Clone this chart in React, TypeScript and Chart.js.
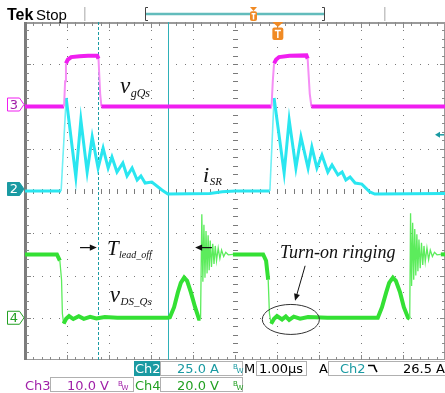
import React, { useEffect, useRef } from "react";
import { Chart, registerables } from "chart.js";

Chart.register(...registerables);

// ---------------- Scope settings ----------------
const H_DIVS = 10;
const V_DIVS = 8;
const TIME_PER_DIV = 1; // µs/div
const CH3_PER_DIV = 10; // V/div
const CH3_OFFSET_DIV = 2;
const CH2_PER_DIV = 25; // A/div
const CH2_OFFSET_DIV = 0;
const CH4_PER_DIV = 20; // V/div
const CH4_OFFSET_DIV = -3;

// ---------------- Waveform data [time µs, value] ----------------
// Ch3: gate voltage v_gQs (V)
const vgsSamples: [number, number][] = [
  [0, 0], [0.93, 0], [0.955, 6], [0.975, 10.2], [1.02, 11.1], [1.1, 11.7], [1.3, 11.9], [1.5, 12.0],
  [1.72, 12.0], [1.75, 11.3], [1.79, 3], [1.82, 0], [5.87, 0], [5.9, 6], [5.93, 10.2], [5.98, 11.1],
  [6.05, 11.7], [6.3, 12.0], [6.7, 12.1], [6.73, 11.3], [6.78, 3], [6.82, 0], [10, 0],
];

// Ch2: SR current i_SR (A)
const isrSamples: [number, number][] = [
  [0, 0], [0.86, 0], [0.98, 55], [1.21, 8.3], [1.33, 42], [1.48, 11.2], [1.6, 32], [1.74, 13.6],
  [1.86, 25.4], [1.98, 13.6], [2.07, 20.1], [2.19, 11.2], [2.33, 16.6], [2.43, 8.9], [2.55, 13.6],
  [2.67, 6.5], [2.76, 8.9], [2.86, 4.7], [3.02, 5.3], [3.26, 0.6], [3.4, -1.8], [4.4, -1.5],
  [4.7, -0.5], [5.0, 0], [5.83, 0], [5.93, 55], [6.17, 10.7], [6.29, 42], [6.45, 13.6], [6.57, 32],
  [6.74, 13.6], [6.83, 26], [6.95, 13.6], [7.07, 21.3], [7.21, 11.2], [7.31, 15.4], [7.45, 9.5],
  [7.55, 11.2], [7.64, 6.5], [7.74, 8.3], [7.86, 4.7], [8.02, 4.1], [8.21, -0.6], [8.33, -1.8], [10, -1.5],
];

// Ch4: drain-source voltage v_DS_Qs (V)
const vdsSamples: [number, number][] = [
  [0, 30], [0.76, 30], [0.83, 27], [0.87, 18], [0.89, 2], [0.92, -2.8], [0.98, -0.5], [1.05, 0.8],
  [1.15, -0.6], [1.28, 0.7], [1.4, -0.5], [1.55, 0.4], [1.7, -0.3], [1.9, 0.3], [2.2, 0], [3.4, 0],
  [3.45, 0.2], [3.55, 5], [3.64, 12], [3.71, 16.5], [3.79, 19], [3.86, 17.5], [3.95, 12], [4.05, 5],
  [4.14, -0.5], [4.18, -0.5], [4.21, 49], [4.235, 17], [4.26, 44], [4.285, 19], [4.31, 41], [4.335, 21],
  [4.36, 39], [4.385, 22.5], [4.41, 36.5], [4.44, 24], [4.47, 35], [4.5, 25.5], [4.53, 34], [4.56, 27],
  [4.6, 33], [4.64, 28], [4.68, 32], [4.73, 29], [4.78, 31], [4.84, 29.8], [4.95, 30], [5.67, 30],
  [5.74, 27], [5.79, 18], [5.82, 2], [5.86, -2.8], [5.93, -0.5], [6.0, 0.8], [6.12, -0.8], [6.21, 0.6],
  [6.29, -1.0], [6.4, 0.5], [6.55, -0.4], [6.74, 0.3], [7.2, 0], [8.4, 0], [8.5, 5], [8.6, 12],
  [8.67, 16.5], [8.76, 19], [8.83, 17.5], [8.93, 12], [9.02, 5], [9.12, 0], [9.16, -0.5], [9.18, 49.5],
  [9.205, 15], [9.23, 45], [9.255, 18], [9.28, 42], [9.305, 20], [9.33, 39.5], [9.355, 22], [9.38, 37],
  [9.41, 23.5], [9.44, 35.5], [9.47, 25], [9.5, 34], [9.53, 26.5], [9.57, 33], [9.61, 27.5], [9.65, 32],
  [9.7, 29], [9.75, 31], [9.81, 29.8], [9.9, 30], [10, 30],
];

// thin-trace windows (fast edges / ringing), in µs
const vdsThinWindows: [number, number][] = [[0.83, 0.92], [4.18, 4.95], [5.79, 5.86], [9.16, 9.9]];
const vgsThinWindows: [number, number][] = [[0.93, 0.975], [1.75, 1.82], [5.87, 5.93], [6.73, 6.82]];
const isrThinWindows: [number, number][] = [[0.86, 0.98], [5.83, 5.93]];

// cursors & trigger (µs)
const cursorDashedT = 1.74;
const cursorSolidT = 3.405;
const triggerT = 6.02;
const trigLevelDiv = 1.33;

// readout texts
const ch2Readout = "25.0 A";
const ch3Readout = "10.0 V";
const ch4Readout = "20.0 V";
const timebaseReadout = "1.00\u00b5s";
const trigReadout = "26.5 A";

// colours
const C_MAGENTA = "#f01ef0";
const C_CYAN = "#2ae6f0";
const C_GREEN = "#34e034";
const C_TEAL = "#1a9aa2";
const C_PURPLE = "#a020a8";
const C_DGREEN = "#22a022";
const C_ORANGE = "#f08a24";

const SERIF = '"Liberation Serif","DejaVu Serif",serif';
const SANS = '"DejaVu Sans","Liberation Sans",sans-serif';
const ARIAL = '"Liberation Sans","DejaVu Sans",sans-serif';

function toPts(s: [number, number][]) {
  return s.map(([x, y]) => ({ x, y }));
}

function inWin(w: [number, number][], t: number) {
  return w.some(([a, b]) => t >= a && t < b);
}

function arrow(ctx: CanvasRenderingContext2D, x1: number, y1: number, x2: number, y2: number, head = 7, half = 3.2) {
  const ang = Math.atan2(y2 - y1, x2 - x1);
  ctx.beginPath();
  ctx.moveTo(x1, y1);
  ctx.lineTo(x2 - Math.cos(ang) * head * 0.8, y2 - Math.sin(ang) * head * 0.8);
  ctx.stroke();
  ctx.beginPath();
  ctx.moveTo(x2, y2);
  ctx.lineTo(x2 - Math.cos(ang) * head - Math.sin(ang) * half, y2 - Math.sin(ang) * head + Math.cos(ang) * half);
  ctx.lineTo(x2 - Math.cos(ang) * head + Math.sin(ang) * half, y2 - Math.sin(ang) * head - Math.cos(ang) * half);
  ctx.closePath();
  ctx.fill();
}

function mathLabel(ctx: CanvasRenderingContext2D, x: number, y: number, main: string, sub: string, mainPx: number, subPx: number, subDy: number) {
  ctx.font = `italic ${mainPx}px ${SERIF}`;
  ctx.fillText(main, x, y);
  const w = ctx.measureText(main).width;
  ctx.font = `italic ${subPx}px ${SERIF}`;
  ctx.fillText(sub, x + w + 0.5, y + subDy);
}

function chMarker(ctx: CanvasRenderingContext2D, y: number, label: string, stroke: string, fill: string, text: string) {
  ctx.beginPath();
  ctx.moveTo(7.5, y - 6.5);
  ctx.lineTo(19.5, y - 6.5);
  ctx.lineTo(24, y);
  ctx.lineTo(19.5, y + 6.5);
  ctx.lineTo(7.5, y + 6.5);
  ctx.closePath();
  ctx.fillStyle = fill;
  ctx.fill();
  ctx.strokeStyle = stroke;
  ctx.lineWidth = 1;
  ctx.stroke();
  ctx.fillStyle = text;
  ctx.font = `13px ${SANS}`;
  ctx.textAlign = "center";
  ctx.textBaseline = "middle";
  ctx.fillText(label, 14, y + 1);
  ctx.textAlign = "left";
  ctx.textBaseline = "alphabetic";
}

function bw(ctx: CanvasRenderingContext2D, x: number, y: number, color: string) {
  ctx.fillStyle = color;
  ctx.font = `7px ${SANS}`;
  ctx.fillText("B", x, y - 4);
  ctx.fillText("W", x + 3.5, y);
}

function trigIcon(ctx: CanvasRenderingContext2D, cx: number, top: number, h: number, w: number) {
  ctx.fillStyle = C_ORANGE;
  ctx.beginPath();
  ctx.moveTo(cx - w / 2, top);
  ctx.lineTo(cx + w / 2, top);
  ctx.lineTo(cx, top + h * 0.28);
  ctx.closePath();
  ctx.fill();
  const bt = top + h * 0.3;
  const bh = h * 0.7;
  ctx.beginPath();
  (ctx as any).roundRect ? (ctx as any).roundRect(cx - w / 2, bt, w, bh, 2) : ctx.rect(cx - w / 2, bt, w, bh);
  ctx.fill();
  ctx.strokeStyle = "#fff";
  ctx.lineWidth = 1.5;
  ctx.beginPath();
  ctx.moveTo(cx - w * 0.28, bt + bh * 0.25);
  ctx.lineTo(cx + w * 0.28, bt + bh * 0.25);
  ctx.moveTo(cx, bt + bh * 0.25);
  ctx.lineTo(cx, bt + bh * 0.85);
  ctx.stroke();
}

const scopePlugin = {
  id: "scope",
  beforeDatasetsDraw(chart: any) {
    const { ctx, chartArea: a, scales } = chart;
    const xs = scales.x;
    const yd = scales.yDiv;
    ctx.save();
    // dotted graticule
    ctx.fillStyle = "#7a7a7a";
    for (let i = 1; i < H_DIVS; i++) {
      const px = Math.round(xs.getPixelForValue(i * TIME_PER_DIV));
      for (let k = 1; k < V_DIVS * 5; k++) {
        const py = Math.round(yd.getPixelForValue(-V_DIVS / 2 + k * 0.2));
        if (i === H_DIVS / 2) ctx.fillRect(px - 2, py, 5, 1);
        else ctx.fillRect(px, py, 1, 1);
      }
    }
    for (let j = 1; j < V_DIVS; j++) {
      const py = Math.round(yd.getPixelForValue(-V_DIVS / 2 + j));
      for (let k = 1; k < H_DIVS * 5; k++) {
        const px = Math.round(xs.getPixelForValue(k * 0.2 * TIME_PER_DIV));
        if (j === V_DIVS / 2) ctx.fillRect(px, py - 2, 1, 5);
        else ctx.fillRect(px, py, 1, 1);
      }
    }
    // frame
    ctx.fillStyle = "#9a9a9a";
    ctx.fillRect(a.left, a.top, a.right - a.left, 2);
    ctx.fillRect(a.left, a.bottom - 1, a.right - a.left, 1);
    ctx.fillRect(a.right - 1, a.top, 1, a.bottom - a.top);
    ctx.fillStyle = "#7c7c7c";
    ctx.fillRect(a.left - 1, a.top, 3, a.bottom - a.top);
    ctx.fillStyle = "#8a8a8a";
    for (let k = 1; k < H_DIVS * 5; k++) {
      const px = Math.round(xs.getPixelForValue(k * 0.2 * TIME_PER_DIV));
      const len = k % 5 === 0 ? 5 : 3;
      ctx.fillRect(px, a.top, 1, len + 1);
      ctx.fillRect(px, a.bottom - len, 1, len);
    }
    for (let k = 1; k < V_DIVS * 5; k++) {
      const py = Math.round(yd.getPixelForValue(-V_DIVS / 2 + k * 0.2));
      const len = k % 5 === 0 ? 5 : 3;
      ctx.fillRect(a.left + 1, py, len, 1);
      ctx.fillRect(a.right - len, py, len, 1);
    }
    // cursors
    const xd = Math.round(xs.getPixelForValue(cursorDashedT)) + 0.5;
    ctx.strokeStyle = C_TEAL;
    ctx.lineWidth = 1;
    ctx.setLineDash([3, 2]);
    ctx.beginPath();
    ctx.moveTo(xd, a.top);
    ctx.lineTo(xd, a.bottom);
    ctx.stroke();
    ctx.setLineDash([]);
    const xsol = Math.round(xs.getPixelForValue(cursorSolidT)) + 0.5;
    ctx.strokeStyle = "#2eb0b8";
    ctx.beginPath();
    ctx.moveTo(xsol, a.top);
    ctx.lineTo(xsol, a.bottom);
    ctx.stroke();
    ctx.restore();
  },
  afterDraw(chart: any) {
    const { ctx, chartArea: a, scales } = chart;
    const xs = scales.x;
    const yd = scales.yDiv;
    const X = (t: number) => xs.getPixelForValue(t);
    const Y = (d: number) => yd.getPixelForValue(d);
    ctx.save();
    ctx.textBaseline = "alphabetic";
    ctx.fillStyle = "#111";
    ctx.strokeStyle = "#111";

    // waveform labels
    mathLabel(ctx, X(2.26), Y(2.32), "v", "gQs", 23, 12, 4);
    mathLabel(ctx, X(4.24), Y(0.22), "i", "SR", 22, 11, 3);
    mathLabel(ctx, X(1.95), Y(-1.52), "T", "lead_off", 21, 10, 3);
    mathLabel(ctx, X(2.02), Y(-2.62), "v", "DS_Qs", 23, 11, 3);

    // T_lead_off arrows
    ctx.lineWidth = 1.2;
    arrow(ctx, X(1.31), Y(-1.34), X(1.71), Y(-1.34));
    arrow(ctx, X(4.45), Y(-1.34), X(4.05), Y(-1.34));

    // Turn-on ringing
    ctx.font = `italic 18px ${SERIF}`;
    ctx.fillText("Turn-on ringing", X(6.07), Y(-1.59));
    ctx.lineWidth = 1;
    arrow(ctx, X(6.67), Y(-1.77), X(6.43), Y(-2.6), 7, 3);
    ctx.strokeStyle = "#333";
    ctx.beginPath();
    ctx.ellipse(X(6.33), Y(-3.04), X(0.68) - X(0), Y(0) - Y(0.355), 0, 0, Math.PI * 2);
    ctx.stroke();

    // channel ground markers
    chMarker(ctx, scales.yCh3.getPixelForValue(0) - 2, "3", C_MAGENTA, "#fff", C_PURPLE);
    chMarker(ctx, scales.yCh2.getPixelForValue(0) - 2, "2", C_TEAL, C_TEAL, "#fff");
    chMarker(ctx, scales.yCh4.getPixelForValue(0), "4", C_DGREEN, "#fff", C_DGREEN);

    // trigger level marker (right)
    ctx.strokeStyle = C_TEAL;
    ctx.fillStyle = C_TEAL;
    ctx.lineWidth = 1.5;
    arrow(ctx, a.right - 1, Y(trigLevelDiv), a.right - 10, Y(trigLevelDiv), 5, 3);

    // trigger position marker (top of graticule)
    trigIcon(ctx, X(triggerT), a.top, 18, 11);

    // header
    ctx.fillStyle = "#000";
    ctx.font = `bold 16px ${ARIAL}`;
    ctx.fillText("Tek", 7, 20);
    ctx.font = `15px ${ARIAL}`;
    ctx.fillText("Stop", 36, 20);
    ctx.fillStyle = "#c4c4c4";
    ctx.fillRect(84, 7, 1.5, 14);
    ctx.fillRect(384, 7, 1.5, 14);
    ctx.strokeStyle = "#444";
    ctx.lineWidth = 1;
    ctx.beginPath();
    ctx.moveTo(148, 7.5); ctx.lineTo(145.5, 7.5); ctx.lineTo(145.5, 20.5); ctx.lineTo(148, 20.5);
    ctx.moveTo(322, 7.5); ctx.lineTo(324.5, 7.5); ctx.lineTo(324.5, 20.5); ctx.lineTo(322, 20.5);
    ctx.stroke();
    ctx.strokeStyle = "#62bcbc";
    ctx.lineWidth = 2.5;
    ctx.beginPath();
    ctx.moveTo(146, 14);
    ctx.lineTo(324, 14);
    ctx.stroke();
    trigIcon(ctx, 253.5, 7, 14, 7);

    // readouts row 1
    const r1t = 361, r1b = 376, r1y = 373;
    ctx.fillStyle = C_TEAL;
    ctx.fillRect(134, r1t, 26, r1b - r1t);
    ctx.font = `13px ${SANS}`;
    ctx.fillStyle = "#fff";
    ctx.fillText("Ch2", 135, r1y);
    ctx.strokeStyle = "#b0b0b0";
    ctx.lineWidth = 1;
    ctx.strokeRect(160.5, r1t + 0.5, 82, r1b - r1t - 1);
    ctx.fillStyle = C_TEAL;
    ctx.fillText(ch2Readout, 177, r1y);
    bw(ctx, 233, r1y, C_TEAL);
    ctx.fillStyle = "#000";
    ctx.font = `13px ${SANS}`;
    ctx.fillText("M", 244, r1y);
    ctx.strokeRect(256.5, r1t + 0.5, 50, r1b - r1t - 1);
    ctx.fillText(timebaseReadout, 259, r1y);
    ctx.fillText("A", 319, r1y);
    ctx.strokeRect(328.5, r1t + 0.5, 120, r1b - r1t - 1);
    ctx.fillStyle = C_TEAL;
    ctx.fillText("Ch2", 340, r1y);
    ctx.strokeStyle = "#000";
    ctx.lineWidth = 1.6;
    ctx.beginPath();
    ctx.moveTo(368, 365.5);
    ctx.lineTo(374, 365.5);
    ctx.quadraticCurveTo(375, 369, 377, 372);
    ctx.stroke();
    ctx.fillStyle = "#000";
    ctx.textAlign = "right";
    ctx.fillText(trigReadout, 445, r1y);
    ctx.textAlign = "left";

    // readouts row 2
    const r2t = 377, r2b = 392, r2y = 390;
    ctx.strokeStyle = "#b0b0b0";
    ctx.lineWidth = 1;
    ctx.fillStyle = C_PURPLE;
    ctx.fillText("Ch3", 25, r2y);
    ctx.strokeRect(50.5, r2t + 0.5, 83, r2b - r2t - 1);
    ctx.fillText(ch3Readout, 67, r2y);
    bw(ctx, 118, r2y, C_PURPLE);
    ctx.font = `13px ${SANS}`;
    ctx.fillStyle = C_DGREEN;
    ctx.fillText("Ch4", 135, r2y);
    ctx.strokeRect(160.5, r2t + 0.5, 82, r2b - r2t - 1);
    ctx.fillText(ch4Readout, 177, r2y);
    bw(ctx, 233, r2y, C_DGREEN);

    ctx.restore();
  },
};

export default function App() {
  const ref = useRef<HTMLCanvasElement>(null);
  useEffect(() => {
    const canvas = ref.current;
    if (!canvas) return;
    const chart = new Chart(canvas, {
      type: "line",
      data: {
        datasets: [
          {
            label: "v_gQs",
            data: toPts(vgsSamples),
            yAxisID: "yCh3",
            borderColor: C_MAGENTA,
            borderWidth: 4,
            pointRadius: 0,
            tension: 0,
            segment: {
              borderWidth: (c: any) => (inWin(vgsThinWindows, c.p0.parsed.x) ? 2 : undefined),
              borderColor: (c: any) => (inWin(vgsThinWindows, c.p0.parsed.x) ? "#f58ef5" : undefined),
            },
          },
          {
            label: "i_SR",
            data: toPts(isrSamples),
            yAxisID: "yCh2",
            borderColor: C_CYAN,
            borderWidth: 3,
            pointRadius: 0,
            tension: 0,
            segment: {
              borderWidth: (c: any) => (inWin(isrThinWindows, c.p0.parsed.x) ? 1.6 : undefined),
              borderColor: (c: any) => (inWin(isrThinWindows, c.p0.parsed.x) ? "#6ff0f5" : undefined),
            },
          },
          {
            label: "v_DS_Qs",
            data: toPts(vdsSamples),
            yAxisID: "yCh4",
            borderColor: C_GREEN,
            borderWidth: 4,
            pointRadius: 0,
            tension: 0,
            segment: {
              borderWidth: (c: any) => (inWin(vdsThinWindows, c.p0.parsed.x) ? 1.3 : undefined),
              borderColor: (c: any) => (inWin(vdsThinWindows, c.p0.parsed.x) ? "#5cec5c" : undefined),
            },
          },
        ],
      },
      options: {
        responsive: false,
        animation: false,
        devicePixelRatio: 1,
        events: [],
        layout: { padding: { left: 25, top: 22, right: 0, bottom: 33 } },
        scales: {
          x: { type: "linear", display: false, min: 0, max: H_DIVS * TIME_PER_DIV },
          yDiv: { type: "linear", display: false, min: -V_DIVS / 2, max: V_DIVS / 2 },
          yCh3: {
            type: "linear",
            display: false,
            min: (-V_DIVS / 2 - CH3_OFFSET_DIV) * CH3_PER_DIV,
            max: (V_DIVS / 2 - CH3_OFFSET_DIV) * CH3_PER_DIV,
          },
          yCh2: {
            type: "linear",
            display: false,
            min: (-V_DIVS / 2 - CH2_OFFSET_DIV) * CH2_PER_DIV,
            max: (V_DIVS / 2 - CH2_OFFSET_DIV) * CH2_PER_DIV,
          },
          yCh4: {
            type: "linear",
            display: false,
            min: (-V_DIVS / 2 - CH4_OFFSET_DIV) * CH4_PER_DIV,
            max: (V_DIVS / 2 - CH4_OFFSET_DIV) * CH4_PER_DIV,
          },
        },
        plugins: { legend: { display: false }, tooltip: { enabled: false } },
      } as any,
      plugins: [scopePlugin],
    } as any);
    return () => chart.destroy();
  }, []);
  return (
    <div style={{ position: "fixed", left: 0, top: 0, width: 445, height: 393, background: "#fff" }}>
      <canvas ref={ref} width={445} height={393} style={{ display: "block", width: 445, height: 393 }} />
    </div>
  );
}
